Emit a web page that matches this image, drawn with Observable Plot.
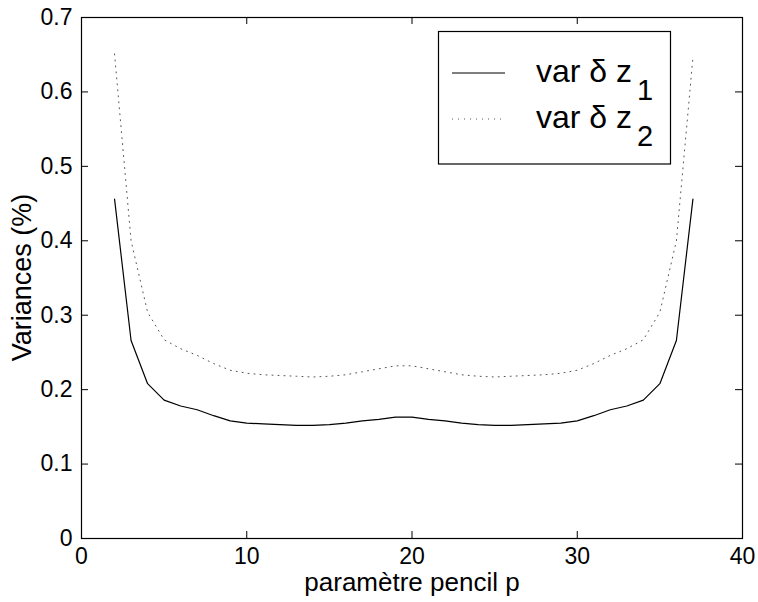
<!DOCTYPE html>
<html><head><meta charset="utf-8">
<script src="https://cdn.jsdelivr.net/npm/d3@7"></script>
<script src="https://cdn.jsdelivr.net/npm/@observablehq/plot@0.6"></script>
<style>
body{margin:0;background:#fff}
#chart{position:relative;width:758px;height:602px}
</style>
</head><body><div id="chart"></div>
<script>
// ---- data ----
const pencilP = [2,3,4,5,6,7,8,9,10,11,12,13,14,15,16,17,18,19,20,21,22,23,24,25,26,27,28,29,30,31,32,33,34,35,36,37];
const varZ1 = [0.456,0.266,0.208,0.186,0.178,0.173,0.165,0.158,0.155,0.154,0.153,0.152,0.152,0.153,0.155,0.158,0.160,0.163,
               0.163,0.160,0.158,0.155,0.153,0.152,0.152,0.153,0.154,0.155,0.158,0.165,0.173,0.178,0.186,0.208,0.266,0.456];
const varZ2 = [0.651,0.400,0.304,0.267,0.255,0.246,0.235,0.226,0.222,0.220,0.219,0.218,0.217,0.218,0.220,0.224,0.228,0.232,
               0.232,0.228,0.224,0.220,0.218,0.217,0.218,0.219,0.220,0.222,0.226,0.235,0.246,0.255,0.267,0.304,0.400,0.646];
const xTicks = [0,10,20,30,40];
const yTicks = [0,0.1,0.2,0.3,0.4,0.5,0.6,0.7];
const seriesLabels = ["var δ z","var δ z"];
const seriesSubs = ["1","2"];
const xLabel = "paramètre pencil p";
const yLabel = "Variances (%)";

// ---- layout ----
const W = 758, H = 602, mL = 81, mR = 16, mT = 17, mB = 64;
const iw = W - mL - mR, ih = H - mT - mB, tk = 7;
const font = "'Liberation Sans', Arial, Helvetica, sans-serif";

const rows1 = pencilP.map((x, i) => ({x, y: varZ1[i]}));
const rows2 = pencilP.map((x, i) => ({x, y: varZ2[i]}));

const chart = Plot.plot({
  width: W, height: H,
  marginLeft: mL, marginRight: mR, marginTop: mT, marginBottom: mB,
  style: {fontFamily: font, fontSize: "23px", color: "#000", background: "#fff", overflow: "visible"},
  x: {domain: [0, 40], label: null},
  y: {domain: [0, 0.7], label: null},
  marks: [
    Plot.axisX(xTicks, {tickSize: 0, tickPadding: 9, tickFormat: d => String(d), fontSize: 23}),
    Plot.axisY(yTicks, {tickSize: 0, tickPadding: 9, tickFormat: d => String(d), fontSize: 23}),
    Plot.tickX(xTicks, {x: d => d, insetTop: ih - tk, stroke: "#000"}),
    Plot.tickX(xTicks, {x: d => d, insetBottom: ih - tk, stroke: "#000"}),
    Plot.tickY(yTicks, {y: d => d, insetRight: iw - tk, stroke: "#000"}),
    Plot.tickY(yTicks, {y: d => d, insetLeft: iw - tk, stroke: "#000"}),
    Plot.frame({stroke: "#000", strokeWidth: 1.2}),
    Plot.line(rows2, {x: "x", y: "y", stroke: "#555", strokeWidth: 1, strokeDasharray: "1,5"}),
    Plot.line(rows1, {x: "x", y: "y", stroke: "#000", strokeWidth: 1.2}),
    Plot.text([xLabel], {frameAnchor: "bottom", lineAnchor: "bottom", dy: 52, fontSize: 26, fill: "#000"})
  ]
});
document.getElementById("chart").appendChild(chart);

const svg = d3.select(chart);
// y axis title
svg.append("text")
  .attr("transform", `translate(22,${mT + ih / 2}) rotate(-90)`)
  .attr("text-anchor", "middle").attr("dominant-baseline", "central")
  .attr("font-family", font).attr("font-size", 27).attr("fill", "#000")
  .text(yLabel);

// ---- legend (inside the axes, top right) ----
const lg = svg.append("g").attr("font-family", font).attr("text-anchor", "start");
lg.append("rect").attr("x", 438.5).attr("y", 31.5).attr("width", 232).attr("height", 132.5)
  .attr("fill", "#fff").attr("stroke", "#000").attr("stroke-width", 1.2);
const rowsY = [73, 119];
const dashes = [null, "1,5"];
const strokes = ["#000", "#555"];
seriesLabels.forEach((lab, i) => {
  lg.append("line").attr("x1", 452).attr("x2", 505).attr("y1", rowsY[i]).attr("y2", rowsY[i])
    .attr("stroke", strokes[i]).attr("stroke-width", i === 0 ? 1.2 : 1)
    .attr("stroke-dasharray", dashes[i]);
  const t = lg.append("text").attr("x", 536).attr("y", rowsY[i] + 9).attr("font-size", 32)
    .attr("fill", "#000").attr("text-anchor", "start");
  t.append("tspan").text(lab);
  t.append("tspan").attr("dx", 5).attr("dy", 18).attr("font-size", 29).text(seriesSubs[i]);
});
</script>
</body></html>
